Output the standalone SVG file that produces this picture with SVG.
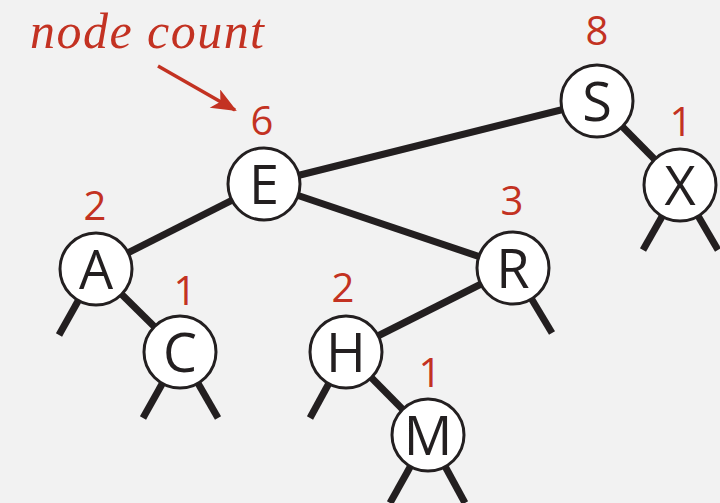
<svg xmlns="http://www.w3.org/2000/svg" width="720" height="503" viewBox="0 0 720 503">
<defs>
<style>
.edge{stroke:#231f20;stroke-width:7;fill:none}
.node circle{fill:#fff;stroke:#231f20;stroke-width:3}
.node text{font-family:"Open Sans","Noto Sans",sans-serif;font-size:54px;fill:#231f20;text-anchor:middle}
.cnt{font-family:"Open Sans","Noto Sans",sans-serif;font-size:40px;fill:#c33222;text-anchor:middle}
</style>
<marker id="ah" viewBox="0 0 12 10" refX="11" refY="5" markerWidth="7.5" markerHeight="6" orient="auto" markerUnits="strokeWidth">
<path d="M0,0 L12,5 L0,10 L3,5 Z" fill="#c33222"/>
</marker>
</defs>
<rect width="720" height="503" fill="#f2f2f2"/>
<text x="30" y="48" font-family="Liberation Serif, serif" font-style="italic" font-size="50" fill="#c33222" textLength="234">node count</text>
<line x1="158" y1="66" x2="235" y2="110" stroke="#c33222" stroke-width="3.5" marker-end="url(#ah)"/>
<g id="connectors">
<line class="edge" x1="264" y1="184" x2="597" y2="101"/>
<line class="edge" x1="597" y1="101" x2="680" y2="185"/>
<line class="edge" x1="264" y1="184" x2="96" y2="269"/>
<line class="edge" x1="264" y1="184" x2="513" y2="268"/>
<line class="edge" x1="96" y1="269" x2="180" y2="352"/>
<line class="edge" x1="513" y1="268" x2="346" y2="352"/>
<line class="edge" x1="346" y1="352" x2="428" y2="435"/>
<line class="edge" x1="680" y1="185" x2="643" y2="250"/>
<line class="edge" x1="680" y1="185" x2="718" y2="250"/>
<line class="edge" x1="96" y1="269" x2="59" y2="335"/>
<line class="edge" x1="180" y1="352" x2="143" y2="418"/>
<line class="edge" x1="180" y1="352" x2="218" y2="418"/>
<line class="edge" x1="513" y1="268" x2="552" y2="333"/>
<line class="edge" x1="346" y1="352" x2="310" y2="418"/>
<line class="edge" x1="428" y1="435" x2="390" y2="503"/>
<line class="edge" x1="428" y1="435" x2="465" y2="503"/>
</g>
<g id="node-S" class="node"><circle cx="597" cy="101" r="36"/><text x="597" y="121">S</text></g>
<g id="node-X" class="node"><circle cx="680" cy="185" r="36"/><text x="680" y="205">X</text></g>
<g id="node-E" class="node"><circle cx="264" cy="184" r="36"/><text x="264" y="204">E</text></g>
<g id="node-A" class="node"><circle cx="96" cy="269" r="36"/><text x="96" y="289">A</text></g>
<g id="node-C" class="node"><circle cx="180" cy="352" r="36"/><text x="180" y="372">C</text></g>
<g id="node-R" class="node"><circle cx="513" cy="268" r="36"/><text x="513" y="288">R</text></g>
<g id="node-H" class="node"><circle cx="346" cy="352" r="36"/><text x="346" y="372">H</text></g>
<g id="node-M" class="node"><circle cx="428" cy="435" r="36"/><text x="428" y="455">M</text></g>
<g id="counts">
<text class="cnt" x="597" y="45">8</text>
<text class="cnt" x="681" y="136">1</text>
<text class="cnt" x="262" y="135">6</text>
<text class="cnt" x="95" y="220">2</text>
<text class="cnt" x="185" y="305">1</text>
<text class="cnt" x="512" y="215">3</text>
<text class="cnt" x="343" y="302">2</text>
<text class="cnt" x="430" y="387">1</text>
</g>
</svg>
